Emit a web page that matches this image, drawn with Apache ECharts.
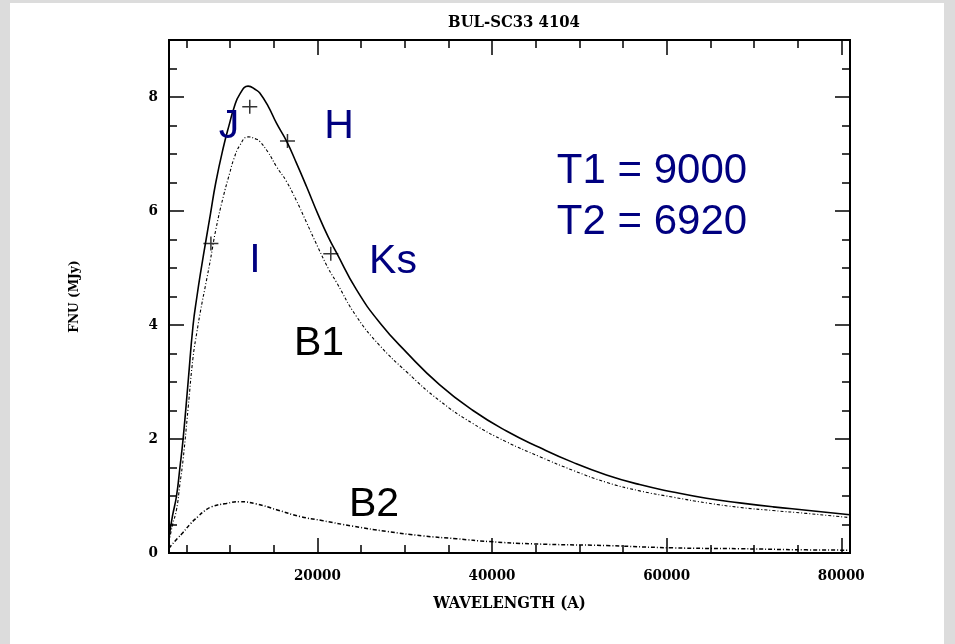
<!DOCTYPE html>
<html>
<head>
<meta charset="utf-8">
<script src="https://cdn.jsdelivr.net/npm/echarts@6/dist/echarts.min.js"></script>
<style>
  html, body { margin: 0; padding: 0; background: #dcdcdc; }
  #panel { position: absolute; left: 10px; top: 3px; width: 934px; height: 641px; background: #ffffff; }
  #chart { position: absolute; left: 0; top: 0; width: 955px; height: 644px; }
</style>
</head>
<body>
<div id="panel"></div>
<div id="chart"></div>
<script>
// ---- data ----
const totalWave = [3000, 3400, 3860, 4250, 4615, 5190, 5760, 6200, 6650, 7250, 7750, 8360, 9200, 9960, 10420, 11110, 12060, 13000, 13400, 14350, 15310, 16450, 17600, 18750, 20070, 21220, 22180, 24470, 27140, 30200, 34010, 37820, 41650, 45460, 49270, 53100, 56910, 60720, 64550, 68360, 72180, 76000, 81000];
const totalFlux = [0.27, 0.65, 1.0, 1.5, 2.0, 3.0, 4.0, 4.5, 4.95, 5.5, 5.95, 6.5, 7.1, 7.55, 7.8, 8.05, 8.19, 8.12, 8.07, 7.84, 7.54, 7.23, 6.84, 6.43, 5.94, 5.55, 5.27, 4.62, 4.04, 3.52, 2.95, 2.50, 2.14, 1.85, 1.59, 1.37, 1.20, 1.07, 0.96, 0.88, 0.81, 0.75, 0.67];

const b1Wave = [3000, 3400, 3860, 4250, 4615, 5190, 5760, 6200, 6650, 7250, 7750, 8360, 9200, 9960, 10420, 11110, 12060, 13000, 13400, 14350, 15310, 16450, 17600, 18750, 20070, 21220, 22180, 24470, 27140, 30200, 34010, 37820, 41650, 45460, 49270, 53100, 56910, 60720, 64550, 68360, 72180, 76000, 81000];
const b1Flux = [0.19, 0.49, 0.76, 1.21, 1.64, 2.54, 3.44, 3.88, 4.28, 4.75, 5.15, 5.67, 6.24, 6.67, 6.91, 7.15, 7.30, 7.26, 7.22, 7.03, 6.78, 6.52, 6.18, 5.80, 5.36, 5.00, 4.75, 4.15, 3.64, 3.18, 2.67, 2.27, 1.95, 1.69, 1.45, 1.24, 1.09, 0.98, 0.88, 0.80, 0.745, 0.695, 0.62];

const b2Wave = [3000, 3300, 4000, 4610, 5500, 6330, 7000, 7870, 9580, 11100, 13020, 15310, 18000, 20500, 24080, 27900, 32100, 35920, 39740, 44690, 53100, 60720, 68360, 76000, 81000];
const b2Flux = [0.08, 0.14, 0.26, 0.36, 0.52, 0.64, 0.73, 0.81, 0.87, 0.90, 0.86, 0.76, 0.64, 0.57, 0.47, 0.38, 0.30, 0.25, 0.20, 0.16, 0.13, 0.09, 0.075, 0.055, 0.05];

const bandNames = ['I', 'J', 'H', 'Ks'];
const bandWave = [7800, 12250, 16570, 21530];
const bandFlux = [5.43, 7.83, 7.23, 5.25];

const xMajorTicks = [20000, 40000, 60000, 80000];
const xMinorTicks = [5000, 10000, 15000, 25000, 30000, 35000, 45000, 50000, 55000, 65000, 70000, 75000];
const yMajorTicks = [0, 2, 4, 6, 8];
const yMinorTicks = [0.5, 1, 1.5, 2.5, 3, 3.5, 4.5, 5, 5.5, 6.5, 7, 7.5, 8.5];

const titleText = 'BUL-SC33 4104';
const xName = 'WAVELENGTH (A)';
const yName = 'FNU (MJy)';

// ---- chart ----
const hershey = '"DejaVu Serif Condensed", "DejaVu Serif", serif';
const zip = (a, b) => a.map((v, i) => [v, b[i]]);

function xAx(position, ticks, len, withLabels) {
  return {
    type: 'value', position: position, min: 3000, max: 81000,
    axisLine: { show: true, onZero: false, lineStyle: { color: '#000', width: 2 } },
    axisTick: { show: true, inside: true, length: len, customValues: ticks, lineStyle: { color: '#000', width: 1.5 } },
    axisLabel: withLabels ? { show: true, customValues: ticks, margin: 16, color: '#000', fontFamily: hershey, fontWeight: 'bold', fontSize: 15,
      formatter: function (v) { return String(v); } } : { show: false },
    splitLine: { show: false },
    name: withLabels ? xName : '',
    nameLocation: 'middle', nameGap: 42,
    nameTextStyle: { color: '#000', fontFamily: hershey, fontWeight: 'bold', fontSize: 16.5 }
  };
}
function yAx(position, ticks, len, withLabels) {
  return {
    type: 'value', position: position, min: 0, max: 9,
    axisLine: { show: true, onZero: false, lineStyle: { color: '#000', width: 2 } },
    axisTick: { show: true, inside: true, length: len, customValues: ticks, lineStyle: { color: '#000', width: 1.5 } },
    axisLabel: withLabels ? { show: true, customValues: ticks, margin: 11, color: '#000', fontFamily: hershey, fontWeight: 'bold', fontSize: 15,
      formatter: function (v) { return String(v); } } : { show: false },
    splitLine: { show: false },
    name: withLabels ? yName : '',
    nameLocation: 'middle', nameGap: 88, nameRotate: 90,
    nameTextStyle: { color: '#000', fontFamily: hershey, fontWeight: 'bold', fontSize: 13.5 }
  };
}

const annFont = '41px "Liberation Sans", Arial, sans-serif';
function ann(text, x, y, color) {
  return { type: 'text', x: x, y: y, z: 100,
    style: { text: text, font: annFont, fill: color, align: 'center', verticalAlign: 'middle' } };
}
const navy = '#000080';

const chart = echarts.init(document.getElementById('chart'), null, { renderer: 'canvas' });
chart.setOption({
  backgroundColor: 'transparent',
  animation: false,
  title: {
    text: titleText, left: 509, top: 9, textAlign: 'center',
    textStyle: { color: '#000', fontFamily: hershey, fontWeight: 'bold', fontSize: 16.5 }
  },
  grid: { left: 169, top: 40, right: 105, bottom: 91, containLabel: false },
  xAxis: [
    xAx('bottom', xMajorTicks, 15, true),
    xAx('bottom', xMinorTicks, 8, false),
    xAx('top', xMajorTicks, 15, false),
    xAx('top', xMinorTicks, 8, false)
  ],
  yAxis: [
    yAx('left', yMajorTicks, 15, true),
    yAx('left', yMinorTicks, 8, false),
    yAx('right', yMajorTicks, 15, false),
    yAx('right', yMinorTicks, 8, false)
  ],
  series: [
    { name: 'Total', type: 'line', data: zip(totalWave, totalFlux), showSymbol: false, smooth: 0.5,
      lineStyle: { color: '#000', width: 1.6 }, z: 5 },
    { name: 'B1', type: 'line', data: zip(b1Wave, b1Flux), showSymbol: false, smooth: 0.5,
      lineStyle: { color: '#000', width: 1.1, type: [3, 2, 1, 2] }, z: 4 },
    { name: 'B2', type: 'line', data: zip(b2Wave, b2Flux), showSymbol: false, smooth: 0.5,
      lineStyle: { color: '#000', width: 1.5, type: [4, 2, 1, 2] }, z: 4 },
    { name: 'Bands', type: 'scatter', data: zip(bandWave, bandFlux),
      symbol: 'path://M0,6.25H15V7.75H0Z M6.75,0H8.25V14H6.75Z', symbolSize: [15, 14],
      itemStyle: { color: '#000' }, z: 6 }
  ],
  graphic: [
    ann('J', 229, 127, navy),
    ann('H', 339, 127, navy),
    ann('I', 255, 261, navy),
    ann('Ks', 393, 262, navy),
    ann('B1', 319, 344, '#000'),
    ann('B2', 374, 505, '#000'),
    { type: 'text', x: 652, y: 171, z: 100, style: { text: 'T1 = 9000', font: '42px "Liberation Sans", Arial, sans-serif', fill: navy, align: 'center', verticalAlign: 'middle' } },
    { type: 'text', x: 652, y: 222, z: 100, style: { text: 'T2 = 6920', font: '42px "Liberation Sans", Arial, sans-serif', fill: navy, align: 'center', verticalAlign: 'middle' } }
  ]
});
</script>
</body>
</html>
